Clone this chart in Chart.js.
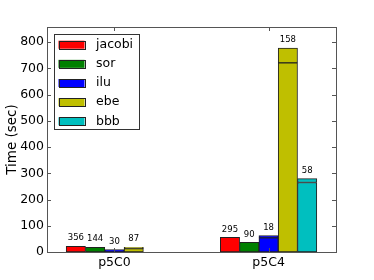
<!DOCTYPE html>
<html>
<head>
<meta charset="utf-8">
<script src="https://cdn.jsdelivr.net/npm/chart.js@4/dist/chart.umd.min.js"></script>
<style>
  html, body { margin: 0; padding: 0; background: #fff; }
  #wrap { width: 374px; height: 280px; }
</style>
</head>
<body>
<div id="wrap"><canvas id="c"></canvas></div>
<script>
const categories = ['p5C0', 'p5C4']
// the x axis is split in 15 bar-wide slots, groups centred on slots 3 and 11
const slotCount = 15
const categorySlot = [3, 11]

const seriesNames = ['jacobi', 'sor', 'ilu', 'ebe', 'bbb']
const seriesColors = ['#ff0000', '#008000', '#0000ff', '#bfbf00', '#00bfbf']

// lower part and upper part of each stacked bar (sec)
const jacobiBase = [22, 56]
const jacobiExtra = [0, 0]
const sorBase = [18, 37]
const sorExtra = [0, 0]
const iluBase = [9, 54]
const iluExtra = [0, 9]
const ebeBase = [13, 721]
const ebeExtra = [5, 57]
const bbbBase = [0, 265]
const bbbExtra = [0, 15]

// numbers printed above the bars
const jacobiIters = [356, 295]
const sorIters = [144, 90]
const iluIters = [30, 18]
const ebeIters = [87, 158]
const bbbIters = [null, 58]

const yTicks = [0, 100, 200, 300, 400, 500, 600, 700, 800]
const yMax = 858

const bases = [jacobiBase, sorBase, iluBase, ebeBase, bbbBase]
const extras = [jacobiExtra, sorExtra, iluExtra, ebeExtra, bbbExtra]
const iters = [jacobiIters, sorIters, iluIters, ebeIters, bbbIters]

const FONT = '"DejaVu Sans", sans-serif'

const slotLabels = []
for (let i = 0; i < slotCount; i++) {
  const k = categorySlot.indexOf(i)
  slotLabels.push(k >= 0 ? categories[k] : '')
}

// spread a per-category array over the slots
function toSlots(values) {
  const out = new Array(slotCount).fill(null)
  categorySlot.forEach((s, j) => { out[s] = values[j] })
  return out
}

const datasets = []
seriesNames.forEach((name, i) => {
  const common = {
    stack: name,
    backgroundColor: seriesColors[i],
    borderColor: '#222',
    borderWidth: 1,
    borderSkipped: false,
    barThickness: 19.3
  }
  datasets.push(Object.assign({ label: name, data: toSlots(bases[i]) }, common))
  datasets.push(Object.assign({ label: name + ' (top)', data: toSlots(extras[i]) }, common))
})

const framePlugin = {
  id: 'frame',
  afterDraw(chart) {
    const ctx = chart.ctx
    const a = chart.chartArea
    const xs = chart.scales.x
    const ys = chart.scales.y
    ctx.save()

    // labels above bars
    ctx.font = '8.5px ' + FONT
    ctx.fillStyle = '#000'
    ctx.textAlign = 'center'
    ctx.textBaseline = 'middle'
    seriesNames.forEach((name, i) => {
      const meta = chart.getDatasetMeta(i * 2 + 1)
      categorySlot.forEach((s, j) => {
        const v = iters[i][j]
        const bar = meta.data[s]
        if (v === null || !bar) return
        ctx.fillText(String(v), bar.x, bar.y - 8)
      })
    })

    // box and inward ticks
    ctx.strokeStyle = '#555'
    ctx.lineWidth = 1
    ctx.strokeRect(Math.round(a.left) + 0.5, Math.round(a.top) + 0.5,
      Math.round(a.right - a.left), Math.round(a.bottom - a.top))
    ctx.beginPath()
    yTicks.forEach(v => {
      const y = Math.round(ys.getPixelForValue(v)) + 0.5
      ctx.moveTo(a.left, y); ctx.lineTo(a.left + 4, y)
      ctx.moveTo(a.right, y); ctx.lineTo(a.right - 4, y)
    })
    categorySlot.forEach(s => {
      const x = Math.round(xs.getPixelForValue(s)) + 0.5
      ctx.moveTo(x, a.top); ctx.lineTo(x, a.top + 4)
      ctx.moveTo(x, a.bottom); ctx.lineTo(x, a.bottom - 4)
    })
    ctx.stroke()

    // legend
    const lx = a.left + 6.5
    const ly = a.top + 7
    ctx.fillStyle = '#fff'
    ctx.fillRect(lx, ly, 85, 95.5)
    ctx.strokeStyle = '#333'
    ctx.strokeRect(Math.round(lx) + 0.5, Math.round(ly) + 0.5, 85, 95)
    ctx.font = '12.5px ' + FONT
    ctx.textAlign = 'left'
    seriesNames.forEach((name, i) => {
      const cy = a.top + 17.7 + 19.15 * i
      ctx.fillStyle = seriesColors[i]
      ctx.fillRect(lx + 5, cy - 4, 26, 8)
      ctx.strokeStyle = '#222'
      ctx.strokeRect(Math.round(lx + 5) + 0.5, Math.round(cy - 4) + 0.5, 26, 8)
      ctx.fillStyle = '#000'
      ctx.fillText(name, lx + 42.5, cy)
    })
    ctx.restore()
  }
}

new Chart(document.getElementById('c'), {
  type: 'bar',
  data: { labels: slotLabels, datasets: datasets },
  options: {
    responsive: true,
    maintainAspectRatio: false,
    animation: false,
    layout: { padding: { left: 0, top: 27, right: 38, bottom: 0 } },
    plugins: {
      legend: { display: false },
      tooltip: { enabled: false }
    },
    scales: {
      x: {
        type: 'category',
        offset: true,
        grid: { display: false, drawTicks: false },
        border: { display: false },
        afterFit: (scale) => { scale.height = 28 },
        ticks: {
          autoSkip: false,
          maxRotation: 0,
          padding: 3,
          color: '#000',
          font: { family: FONT, size: 12.5 }
        }
      },
      y: {
        stacked: true,
        min: 0,
        max: yMax,
        grid: { display: false, drawTicks: false },
        border: { display: false },
        afterFit: (scale) => { scale.width = 47 },
        ticks: {
          stepSize: 100,
          includeBounds: false,
          padding: 3,
          color: '#000',
          font: { family: FONT, size: 12.5 }
        },
        title: {
          display: true,
          text: 'Time (sec)',
          color: '#000',
          font: { family: FONT, size: 13.5 },
          padding: { top: 4, bottom: 0 }
        }
      }
    }
  },
  plugins: [framePlugin]
})
</script>
</body>
</html>
